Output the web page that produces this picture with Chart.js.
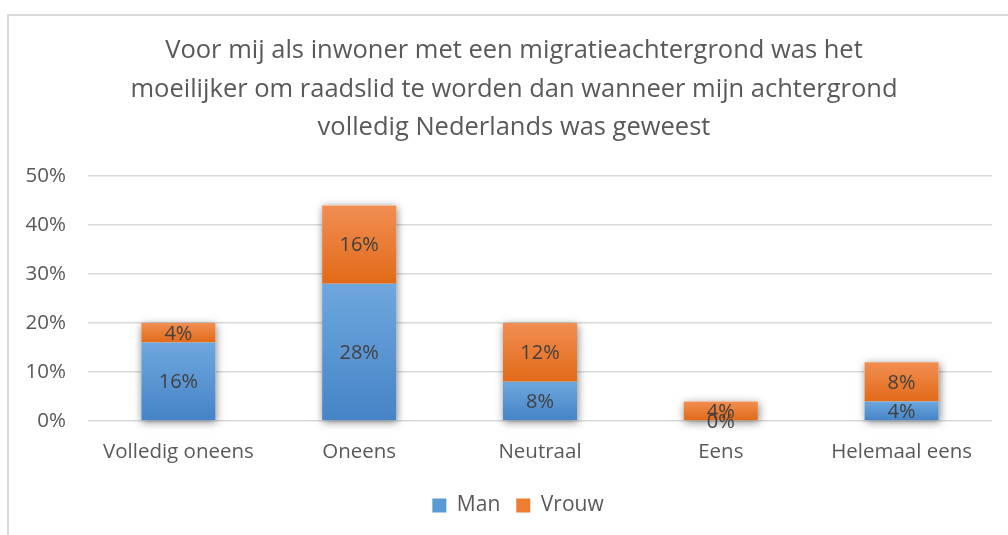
<!DOCTYPE html>
<html>
<head>
<meta charset="utf-8">
<script src="https://cdn.jsdelivr.net/npm/chart.js@4.4.1/dist/chart.umd.min.js"></script>
<style>
  html, body { margin: 0; padding: 0; background: #fff; }
  #wrap { position: relative; width: 1008px; height: 535px; overflow: hidden; }
  #frame { position: absolute; left: 7px; top: 14px; width: 1020px; height: 560px;
           border: 2px solid #d9d9d9; box-sizing: border-box; }
  canvas { position: absolute; left: 0; top: 0; }
</style>
</head>
<body>
<div id="wrap">
  <div id="frame"></div>
  <canvas id="c" width="1008" height="535"></canvas>
</div>
<script>
// Antwoordcategorieën en percentages per geslacht
const categories = ['Volledig oneens', 'Oneens', 'Neutraal', 'Eens', 'Helemaal eens'];
const man = [16, 28, 8, 0, 4];
const vrouw = [4, 16, 12, 4, 8];
const seriesNames = ['Man', 'Vrouw'];
const yTicks = [0, 10, 20, 30, 40, 50];
const titleLines = [
  'Voor mij als inwoner met een migratieachtergrond was het',
  'moeilijker om raadslid te worden dan wanneer mijn achtergrond',
  'volledig Nederlands was geweest'
];

const FONT = "'Open Sans', 'DejaVu Sans', sans-serif";
const palette = {
  Man:   { top: '#6ea7dd', bottom: '#4684c7', solid: '#5b9bd5' },
  Vrouw: { top: '#f18e52', bottom: '#e26a18', solid: '#ed7d31' }
};

// Schaduw onder elke gestapelde kolom en verloop per segment
const shadowPlugin = {
  id: 'stackShadow',
  beforeDatasetsDraw(chart) {
    const ctx = chart.ctx;
    const n = categories.length;
    ctx.save();
    ctx.shadowColor = 'rgba(0,0,0,0.5)';
    ctx.shadowBlur = 8;
    ctx.shadowOffsetX = 1;
    ctx.shadowOffsetY = 2;
    ctx.fillStyle = '#ffffff';
    for (let i = 0; i < n; i++) {
      let top = Infinity, bottom = -Infinity, left = 0, width = 0;
      chart.data.datasets.forEach((ds, di) => {
        const el = chart.getDatasetMeta(di).data[i];
        const h = Math.abs(el.base - el.y);
        if (h < 0.5) return;
        top = Math.min(top, el.y, el.base);
        bottom = Math.max(bottom, el.y, el.base);
        left = el.x - el.width / 2;
        width = el.width;
      });
      if (width > 0) ctx.fillRect(left, top, width, bottom - top);
    }
    ctx.restore();
    chart.data.datasets.forEach((ds, di) => {
      const p = palette[ds.label];
      chart.getDatasetMeta(di).data.forEach(el => {
        const y0 = Math.min(el.y, el.base), y1 = Math.max(el.y, el.base);
        if (y1 - y0 < 0.5) return;
        const g = ctx.createLinearGradient(0, y0, 0, y1);
        g.addColorStop(0, p.top);
        g.addColorStop(1, p.bottom);
        el.options.backgroundColor = g;
      });
    });
  }
};

// Percentages midden in elk segment
const labelPlugin = {
  id: 'segmentLabels',
  afterDatasetsDraw(chart) {
    const ctx = chart.ctx;
    ctx.save();
    ctx.font = "20px " + FONT;
    ctx.fillStyle = '#404040';
    ctx.textAlign = 'center';
    ctx.textBaseline = 'middle';
    chart.data.datasets.forEach((ds, di) => {
      chart.getDatasetMeta(di).data.forEach((el, i) => {
        ctx.fillText(ds.data[i] + '%', el.x, (el.y + el.base) / 2 + 1);
      });
    });
    ctx.restore();
  }
};

// Titel in drie regels; legenda iets naar rechts
const titlePlugin = {
  id: 'titleLines',
  afterLayout(chart) {
    if (chart.legend) { chart.legend.left += 22; chart.legend.right += 22; }
  },
  afterDraw(chart) {
    const ctx = chart.ctx;
    ctx.save();
    ctx.font = "25.5px " + FONT;
    ctx.fillStyle = '#595959';
    ctx.textAlign = 'center';
    ctx.textBaseline = 'middle';
    titleLines.forEach((t, k) => ctx.fillText(t, 514, 51 + k * 38.5));
    ctx.restore();
  }
};

new Chart(document.getElementById('c'), {
  type: 'bar',
  data: {
    labels: categories,
    datasets: [
      { label: seriesNames[0], data: man, backgroundColor: () => palette.Man.solid, borderWidth: 0 },
      { label: seriesNames[1], data: vrouw, backgroundColor: () => palette.Vrouw.solid, borderWidth: 0 }
    ]
  },
  options: {
    responsive: false,
    animation: false,
    events: [],
    layout: { padding: { top: 176, right: 16, left: 0, bottom: 9 } },
    datasets: { bar: { categoryPercentage: 1, barPercentage: 0.41 } },
    scales: {
      x: {
        stacked: true,
        grid: { display: false, drawTicks: false },
        border: { display: false },
        ticks: { color: '#595959', font: { family: FONT, size: 20.5 }, padding: 19 },
        afterFit(s) { s.height = 58; }
      },
      y: {
        stacked: true,
        min: 0, max: 50,
        afterBuildTicks(s) { s.ticks = yTicks.map(v => ({ value: v })); },
        grid: { color: '#d9d9d9', lineWidth: 1.5, drawTicks: false },
        border: { display: false },
        ticks: { color: '#595959', font: { family: FONT, size: 20.5 }, padding: 22,
                 callback: v => v + '%' },
        afterFit(s) { s.width = 88; }
      }
    },
    plugins: {
      title: { display: false },
      tooltip: { enabled: false },
      legend: {
        position: 'bottom',
        labels: {
          color: '#595959', font: { family: FONT, size: 21 },
          boxWidth: 14, boxHeight: 14, padding: 16,
          generateLabels(chart) {
            return chart.data.datasets.map((ds, i) => ({
              text: ds.label, fillStyle: palette[ds.label].solid, strokeStyle: palette[ds.label].solid,
              lineWidth: 0, fontColor: '#595959', datasetIndex: i, hidden: false
            }));
          }
        }
      }
    }
  },
  plugins: [shadowPlugin, labelPlugin, titlePlugin]
});
</script>
</body>
</html>
